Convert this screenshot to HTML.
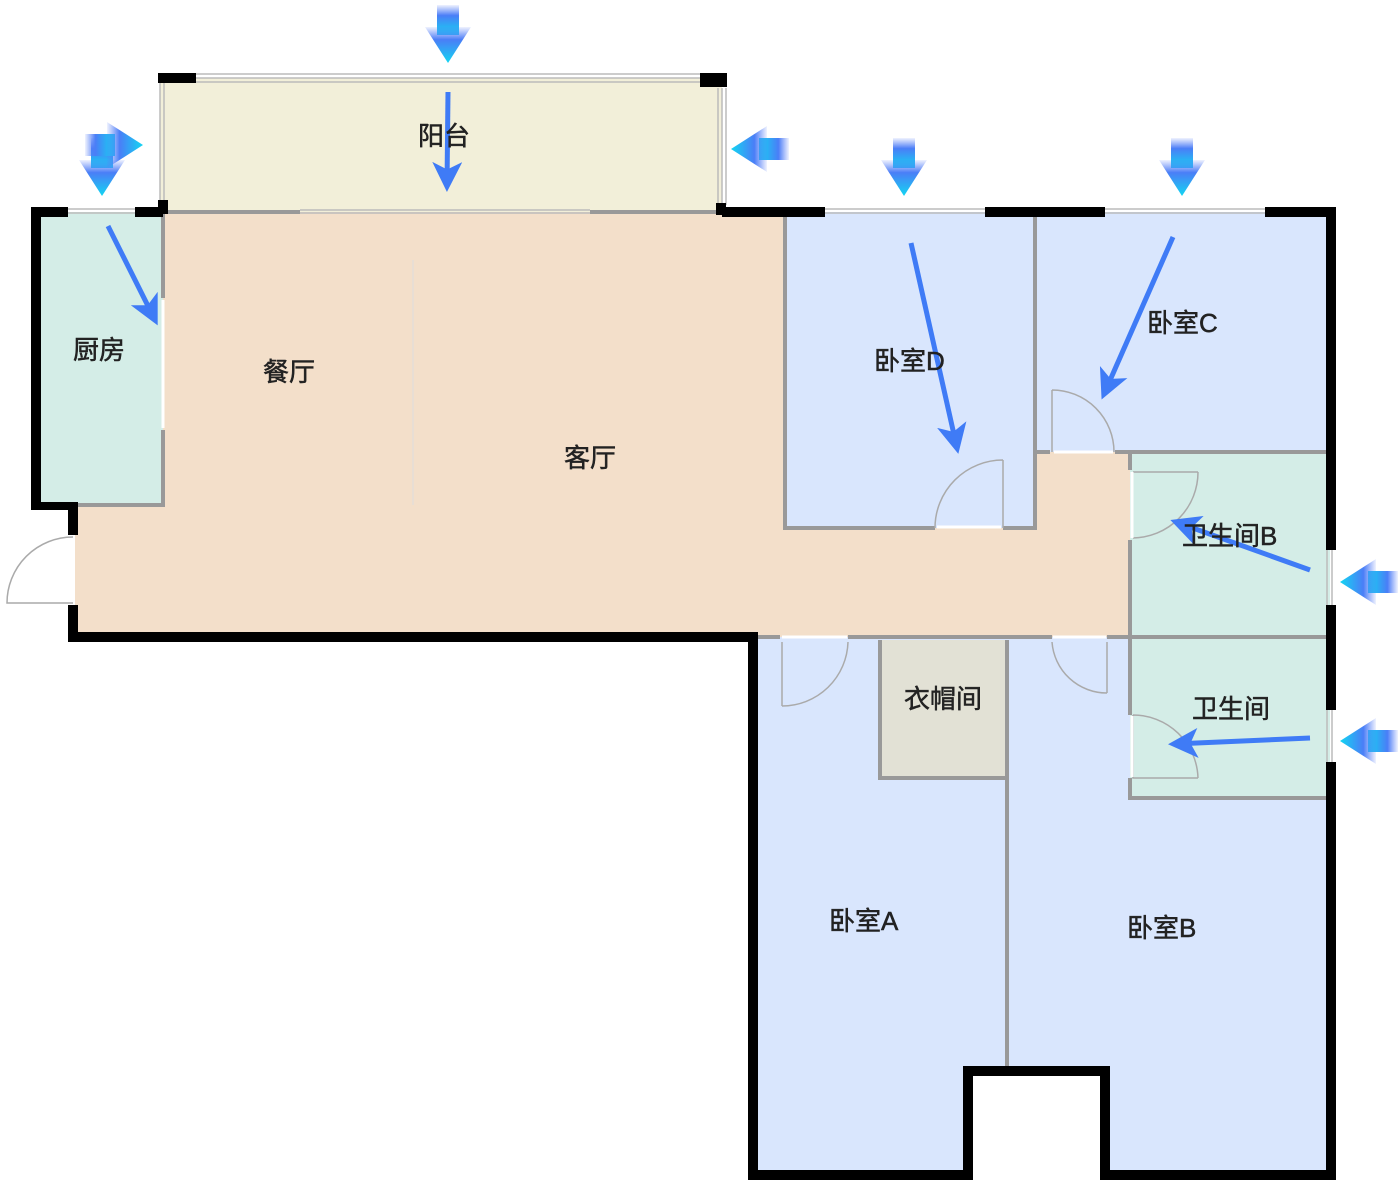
<!DOCTYPE html>
<html><head><meta charset="utf-8"><style>
html,body{margin:0;padding:0;background:#fff;}
svg{display:block}
text{font-family:"Liberation Sans","Noto Sans CJK SC",sans-serif;font-size:26px;fill:#222;stroke:#222;stroke-width:0.5px;}
</style></head><body>
<svg width="1400" height="1186" viewBox="0 0 1400 1186" xmlns="http://www.w3.org/2000/svg">
<defs>
<linearGradient id="g" x1="0" y1="0" x2="0" y2="1">
<stop offset="0" stop-color="#5b7ff7" stop-opacity="0.1"/>
<stop offset="0.35" stop-color="#4a7ef7"/>
<stop offset="1" stop-color="#12d6f2"/>
</linearGradient>
<g id="ba"><rect x="-11" y="0" width="22" height="30" fill="url(#g)"/><polygon points="-23,22 23,22 0,58" fill="url(#g)"/></g>
<marker id="m" viewBox="0 0 10 10" refX="8" refY="5" markerWidth="6" markerHeight="6" orient="auto" markerUnits="strokeWidth"><path d="M0,0 L10,5 L0,10 L2.5,5 z" fill="#3f7bf6"/></marker>
</defs>
<!-- fills -->
<rect x="160" y="78" width="562" height="134" fill="#f2efd9"/>
<path d="M163 212 H785 V528 H1035 V452 H1130 V637 H75 V505 H163 Z" fill="#f3dfca"/>
<rect x="35" y="212" width="128" height="293" fill="#d4ede7"/>
<rect x="785" y="212" width="250" height="316" fill="#d9e6fd"/>
<rect x="1035" y="212" width="295" height="240" fill="#d9e6fd"/>
<rect x="1130" y="452" width="200" height="185" fill="#d4ede7"/>
<path d="M755 637 H1330 V1175 H1103 V1070 H968 V1175 H755 Z" fill="#d9e6fd"/>
<rect x="1130" y="637" width="200" height="161" fill="#d4ede7"/>
<rect x="880" y="640" width="127" height="138" fill="#e2e1d5"/>
<!-- gray interior walls -->
<g stroke="#999" stroke-width="4" fill="none">
<path d="M163 212 H300"/><path d="M590 212 H722"/>
<path d="M163 212 V298"/><path d="M163 430 V505 H40"/>
<path d="M785 212 V528 H935"/><path d="M1003 528 H1035 V212"/>
<path d="M1035 452 H1050"/><path d="M1115 452 H1330"/>
<path d="M1130 452 V470"/><path d="M1130 540 V637"/>
<path d="M755 637 H780"/><path d="M848 637 H1052"/><path d="M1107 637 H1330"/>
<path d="M1130 637 V715"/><path d="M1130 778 V798 H1330"/>
<path d="M880 640 V778 H1007"/><path d="M1007 640 V1070"/>
</g>
<g stroke="#ddd" stroke-width="1" fill="none"><path d="M413 260 V505"/></g>
<!-- windows -->
<g stroke="#bbb" stroke-width="1.5" fill="none">
<path d="M196 74 H700 M196 78 H700 M196 82 H700"/>
<path d="M160 83 V205 M164 83 V205"/>
<path d="M718 88 V205 M722 88 V205 M726 88 V205"/>
<path d="M300 210 H590 M300 213 H590"/>
<path d="M68 209 H135 M68 213 H135"/>
<path d="M825 209 H985 M825 213 H985"/>
<path d="M1105 209 H1265 M1105 213 H1265"/>
<path d="M1327 550 V605 M1332 550 V605"/>
<path d="M1327 710 V762 M1332 710 V762"/>
</g>
<!-- black walls -->
<g fill="#000">
<rect x="158" y="73" width="38" height="10"/><rect x="700" y="73" width="27" height="14"/>
<rect x="158" y="200" width="10" height="14"/><rect x="716" y="203" width="10" height="12"/>
<rect x="31" y="207" width="37" height="10"/><rect x="135" y="207" width="28" height="10"/>
<rect x="31" y="207" width="10" height="303"/><rect x="31" y="502" width="47" height="8"/>
<rect x="68" y="502" width="10" height="33"/><rect x="68" y="605" width="10" height="37"/>
<rect x="68" y="632" width="690" height="10"/>
<rect x="748" y="632" width="10" height="548"/>
<rect x="748" y="1170" width="224" height="10"/>
<rect x="963" y="1066" width="10" height="114"/><rect x="963" y="1066" width="145" height="10"/>
<rect x="1100" y="1066" width="10" height="114"/><rect x="1100" y="1170" width="236" height="10"/>
<rect x="722" y="207" width="103" height="10"/><rect x="985" y="207" width="120" height="10"/>
<rect x="1265" y="207" width="71" height="10"/>
<rect x="1326" y="207" width="10" height="343"/><rect x="1326" y="605" width="10" height="105"/>
<rect x="1326" y="762" width="10" height="418"/>
</g>
<!-- doors -->
<g stroke="#aaa" stroke-width="1.5" fill="none">
<path d="M73 537 A66 66 0 0 0 7 603 H73"/>
<path d="M1003 460 V528 M1003 460 A68 68 0 0 0 935 528"/>
<path d="M1052 390 V452 M1052 390 A62 62 0 0 1 1114 452"/>
<path d="M1133 472 H1198 M1198 472 A66 66 0 0 1 1133 538"/>
<path d="M782 642 V706 M782 706 A66 66 0 0 0 848 642"/>
<path d="M1107 642 V693 M1107 693 A55 55 0 0 1 1052 642"/>
<path d="M1133 715 V778 H1198 M1133 715 A65 65 0 0 1 1198 778"/>
</g>
<g stroke="#fff" stroke-width="3"><path d="M937 527 H1001 M1054 452 H1113 M782 637 H847 M1053 637 H1106 M1132 472 V538 M1132 716 V777 M163 300 V428"/></g>
<!-- block arrows -->
<use href="#ba" transform="translate(448,5)"/>
<use href="#ba" transform="translate(102,138)"/>
<use href="#ba" transform="translate(904,138)"/>
<use href="#ba" transform="translate(1182,138)"/>
<use href="#ba" transform="translate(85,145) rotate(-90)"/>
<use href="#ba" transform="translate(789,149) rotate(90)"/>
<use href="#ba" transform="translate(1398,582) rotate(90)"/>
<use href="#ba" transform="translate(1398,741) rotate(90)"/>
<!-- thin arrows -->
<g stroke="#3f7bf6" stroke-width="5" fill="none" marker-end="url(#m)">
<path d="M108 226 L155 320"/>
<path d="M448 92 L447 186"/>
<path d="M911 243 L957 448"/>
<path d="M1173 237 L1104 394"/>
<path d="M1310 570 L1176 522"/>
<path d="M1310 738 L1174 744"/>
</g>
<!-- labels -->
<text x="418" y="145">阳台</text>
<text x="73" y="359">厨房</text>
<text x="263" y="381">餐厅</text>
<text x="564" y="467">客厅</text>
<text x="874" y="370">卧室D</text>
<text x="1147" y="332">卧室C</text>
<text x="1182" y="545">卫生间B</text>
<text x="1192" y="718">卫生间</text>
<text x="904" y="708">衣帽间</text>
<text x="829" y="930">卧室A</text>
<text x="1127" y="937">卧室B</text>
</svg>
</body></html>
